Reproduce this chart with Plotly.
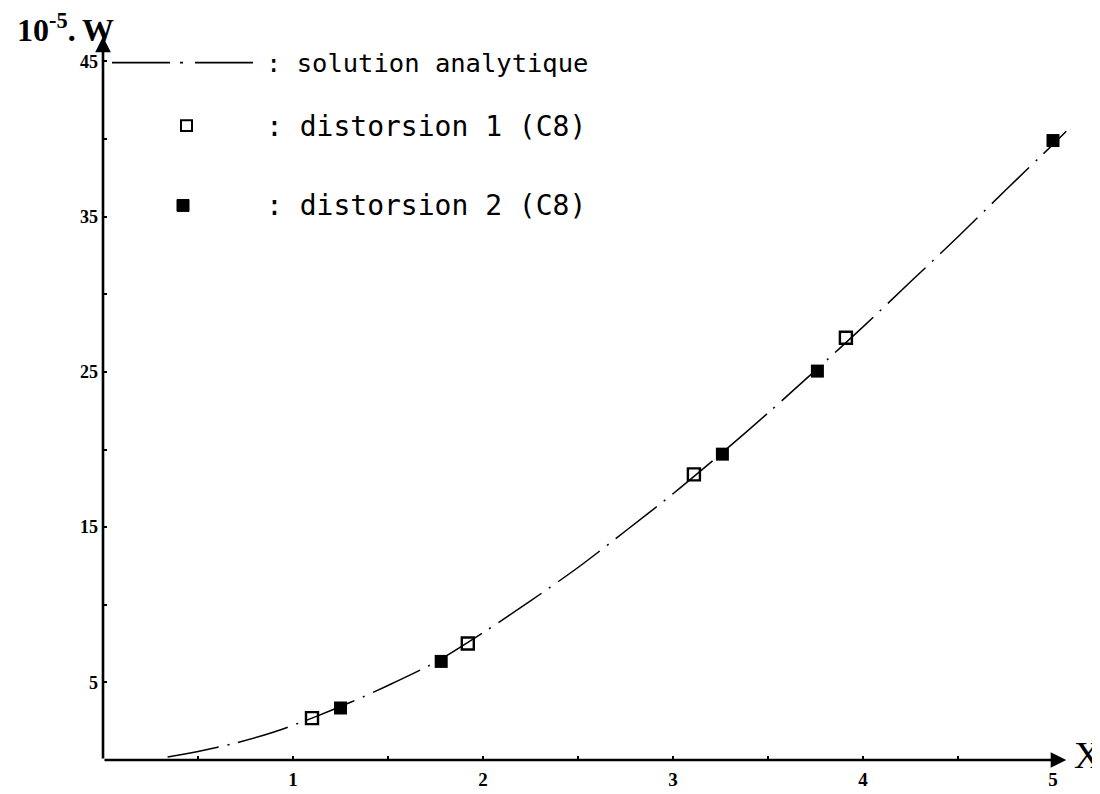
import plotly.graph_objects as go

# --- data ---
curve_x = [0.34, 0.50, 0.70, 0.90, 1.10, 1.30, 1.50, 1.75, 2.00, 2.25, 2.50, 2.75,
           3.00, 3.25, 3.50, 3.75, 4.00, 4.25, 4.50, 4.75, 5.00, 5.07]
curve_y = [0.2, 0.55, 1.1, 1.8, 2.7, 3.7, 4.8, 6.3, 8.2, 10.25, 12.4, 14.75,
           17.15, 19.7, 22.35, 25.1, 27.9, 30.8, 33.7, 36.7, 39.65, 40.5]

dist1_x = [1.10, 1.92, 3.11, 3.91]
dist1_y = [2.7, 7.5, 18.4, 27.2]

dist2_x = [1.25, 1.78, 3.26, 3.76, 5.00]
dist2_y = [3.35, 6.35, 19.7, 25.05, 39.9]

x_tickvals = [0.5, 1, 1.5, 2, 2.5, 3, 3.5, 4, 4.5, 5]
x_ticktext = ["", "1", "", "2", "", "3", "", "4", "", "5"]
y_tickvals = [5, 10, 15, 20, 25, 30, 35, 40, 45]
y_ticktext = ["5", "", "15", "", "25", "", "35", "", "45"]

legend_labels = [": solution analytique", ": distorsion 1 (C8)", ": distorsion 2 (C8)"]

# --- layout geometry (pixels) ---
W_FIG, H_FIG = 1100, 794
X_RANGE = [0, 5.2]
Y_RANGE = [0, 47.6]
UX, UY = 190.0, 15.65
ML = 95
PW = (X_RANGE[1] - X_RANGE[0]) * UX
MR = W_FIG - ML - PW
Y0_PX = 758
PH = (Y_RANGE[1] - Y_RANGE[0]) * UY
MT = Y0_PX - PH
MB = H_FIG - Y0_PX


def px(xp):
    return (xp - ML) / PW


def py(yp):
    return 1 - (yp - MT) / PH


DASH = "52px,9px,2px,9px"
serif = "Liberation Serif"
mono = "DejaVu Sans Mono"

fig = go.Figure()

fig.add_trace(go.Scatter(
    x=curve_x, y=curve_y, mode="lines",
    line=dict(color="black", width=1.5, dash=DASH, shape="spline", smoothing=0.8),
    showlegend=False, hoverinfo="skip"))

fig.add_trace(go.Scatter(
    x=dist1_x, y=dist1_y, mode="markers",
    marker=dict(symbol="square-open", size=12, color="black", line=dict(width=2.4, color="black")),
    showlegend=False))

fig.add_trace(go.Scatter(
    x=dist2_x, y=dist2_y, mode="markers",
    marker=dict(symbol="square", size=13, color="black", line=dict(width=0)),
    showlegend=False))

shapes = [
    # legend line sample
    dict(type="line", xref="paper", yref="paper", x0=px(104), x1=px(246), y0=py(55), y1=py(55),
         line=dict(color="black", width=1.8, dash="58px,10px,3px,12px")),
    # legend open square
    dict(type="rect", xref="paper", yref="paper", x0=px(173), x1=px(184), y0=py(113), y1=py(124),
         line=dict(color="black", width=2), fillcolor="rgba(0,0,0,0)"),
    # legend filled square
    dict(type="rect", xref="paper", yref="paper", x0=px(169), x1=px(181), y0=py(193), y1=py(205),
         line=dict(color="black", width=1), fillcolor="black"),
]

annotations = []
for label, yrow, fs in zip(legend_labels, [55, 119, 199], [25.5, 28, 28]):
    annotations.append(dict(
        text=label, xref="paper", yref="paper", x=px(256), y=py(yrow),
        xanchor="left", yanchor="middle", showarrow=False,
        font=dict(family=mono, size=fs, color="black")))

# axis arrows
annotations.append(dict(x=5.07, y=0, ax=0, ay=0, xref="x", yref="y", axref="x", ayref="y",
                        text="", showarrow=True, arrowhead=2, arrowsize=1.2, arrowwidth=2.6,
                        arrowcolor="black", standoff=0, startstandoff=0))
annotations.append(dict(x=0, y=46.6, ax=0, ay=0, xref="x", yref="y", axref="x", ayref="y",
                        text="", showarrow=True, arrowhead=2, arrowsize=1.2, arrowwidth=2.6,
                        arrowcolor="black", standoff=0, startstandoff=0))

# axis titles
annotations.append(dict(text="<b>10<sup>-5</sup>.\u2009W</b>", xref="paper", yref="paper",
                        x=px(7), y=py(20), xanchor="left", yanchor="middle", showarrow=False,
                        font=dict(family=serif, size=32, color="black")))
annotations.append(dict(text="X", xref="paper", yref="paper",
                        x=px(1079), y=py(753), xanchor="center", yanchor="middle", showarrow=False,
                        font=dict(family=serif, size=38, color="black")))

fig.update_layout(
    width=W_FIG, height=H_FIG,
    margin=dict(l=ML, r=MR, t=MT, b=MB, pad=0),
    paper_bgcolor="white", plot_bgcolor="white",
    shapes=shapes, annotations=annotations,
    showlegend=False,
    xaxis=dict(range=X_RANGE, showgrid=False, zeroline=False, showline=False,
               tickvals=x_tickvals, ticktext=x_ticktext, ticks="inside", ticklen=4,
               tickwidth=1.5, tickcolor="black", ticklabelstandoff=6,
               tickfont=dict(family=serif, size=19, color="black", weight="bold")),
    yaxis=dict(range=Y_RANGE, showgrid=False, zeroline=False, showline=False,
               tickvals=y_tickvals, ticktext=y_ticktext, ticks="inside", ticklen=4,
               tickwidth=1.5, tickcolor="black", ticklabelstandoff=4,
               tickfont=dict(family=serif, size=18, color="black", weight="bold")),
)

fig.write_html("out.html")
